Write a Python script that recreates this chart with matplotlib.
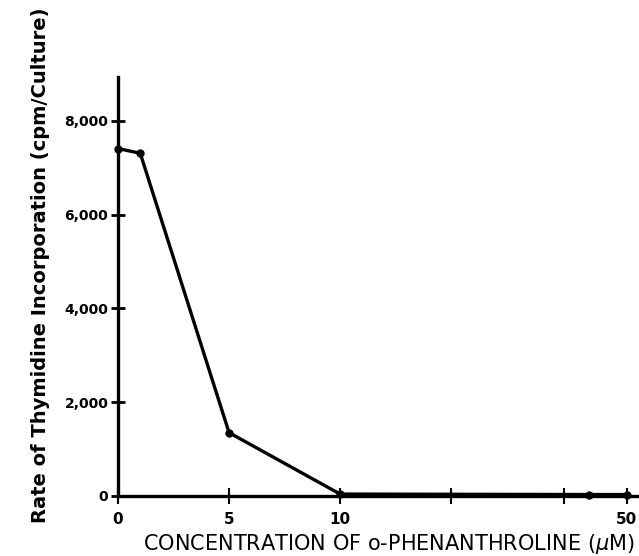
"""Thymidine incorporation vs o-phenanthroline concentration (broken x axis past 10 uM)."""
import numpy as np
import matplotlib
matplotlib.use("Agg")
import matplotlib.pyplot as plt

conc = [0, 1, 5, 10, 44, 50]
rate = [7410, 7310, 1350, 40, 30, 30]

y_ticks = [0, 2000, 4000, 6000, 8000]
y_labels = ["0", "2,000", "4,000", "6,000", "8,000"]
x_ticks = [0, 5, 10, 20, 40, 50]
x_labels = ["0", "5", "10", "", "", "50"]

# hand-drawn axis: linear up to 10, compressed beyond
knots_x = np.array([0, 10, 20, 40, 50, 60])
knots_p = np.array([0, 10, 15, 20.1, 22.9, 25.7])


def forward(x):
    return np.interp(x, knots_x, knots_p)


def inverse(p):
    return np.interp(p, knots_p, knots_x)


fig = plt.figure(figsize=(6.39, 5.56), dpi=100)
ax = fig.add_axes([0.1847, 0.108, 0.815, 0.753])
ax.set_xscale("function", functions=(forward, inverse))

ax.plot(conc, rate, color="black", lw=2.4, marker="o", ms=5, zorder=3, clip_on=False)

ax.set_xlim(0, float(inverse(23.45)))
ax.set_ylim(0, 8930)
ax.set_xticks(x_ticks)
ax.set_xticklabels(x_labels)
ax.set_yticks(y_ticks)
ax.set_yticklabels(y_labels)
ax.minorticks_off()

for side in ["top", "right"]:
    ax.spines[side].set_visible(False)
for side in ["left", "bottom"]:
    ax.spines[side].set_linewidth(2.4)

ax.tick_params(axis="y", direction="inout", length=10, width=2, pad=2, labelsize=10)
ax.tick_params(axis="x", direction="inout", length=11, width=1.5, pad=6, labelsize=11)
for lbl in ax.get_yticklabels() + ax.get_xticklabels():
    lbl.set_fontweight("bold")

ax.set_ylabel("Rate of Thymidine Incorporation (cpm/Culture)", fontsize=14,
              fontweight="bold")
ax.yaxis.set_label_coords(-0.13, 0.55)
ax.set_xlabel("CONCENTRATION OF o-PHENANTHROLINE ($\\mu$M)", fontsize=15)
ax.xaxis.set_label_coords(0.52, -0.085)

plt.savefig("out.png", dpi=100)
plt.close()
